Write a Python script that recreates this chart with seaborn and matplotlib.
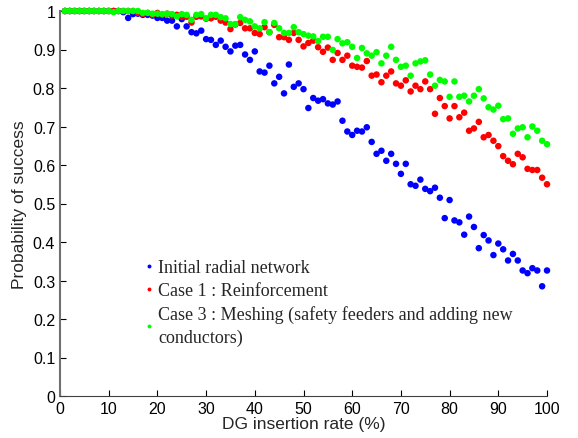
import numpy as np
import pandas as pd
import matplotlib
matplotlib.use("Agg")
import matplotlib.pyplot as plt
import seaborn as sns

rate = list(range(1, 101))

initial_radial = [
    1.0, 1.0, 1.0, 1.0, 1.0, 1.0, 1.0, 1.0, 1.0, 1.0,
    1.0, 1.0, 0.997, 0.982, 0.992, 0.993, 0.99, 0.99, 0.988, 0.982,
    0.982, 0.975, 0.975, 0.96, 0.979, 0.96, 0.945, 0.942, 0.949, 0.927,
    0.925, 0.912, 0.923, 0.907, 0.895, 0.91, 0.912, 0.887, 0.873, 0.895,
    0.843, 0.84, 0.858, 0.812, 0.829, 0.786, 0.861, 0.803, 0.812, 0.797,
    0.748, 0.774, 0.767, 0.771, 0.76, 0.757, 0.765, 0.715, 0.687, 0.678,
    0.689, 0.687, 0.698, 0.66, 0.629, 0.637, 0.611, 0.629, 0.603, 0.577,
    0.603, 0.55, 0.546, 0.562, 0.538, 0.532, 0.541, 0.515, 0.462, 0.509,
    0.456, 0.451, 0.419, 0.466, 0.439, 0.384, 0.418, 0.404, 0.366, 0.396,
    0.381, 0.352, 0.369, 0.352, 0.326, 0.319, 0.332, 0.326, 0.285, 0.326,
]

case1_reinforcement = [
    1.0, 1.0, 1.0, 1.0, 1.0, 1.0, 1.0, 1.0, 1.0, 1.0,
    1.0, 1.0, 1.0, 1.0, 1.0, 0.995, 0.992, 0.995, 0.99, 0.995,
    0.99, 0.993, 0.988, 0.99, 0.985, 0.985, 0.97, 0.985, 0.986, 0.98,
    0.981, 0.985, 0.975, 0.97, 0.953, 0.965, 0.969, 0.955, 0.955, 0.943,
    0.94, 0.958, 0.945, 0.964, 0.932, 0.932, 0.925, 0.943, 0.925, 0.908,
    0.917, 0.923, 0.906, 0.894, 0.905, 0.873, 0.891, 0.873, 0.884, 0.858,
    0.855, 0.853, 0.87, 0.832, 0.835, 0.815, 0.832, 0.843, 0.812, 0.806,
    0.82, 0.791, 0.806, 0.797, 0.817, 0.797, 0.733, 0.774, 0.753, 0.721,
    0.753, 0.724, 0.736, 0.689, 0.695, 0.712, 0.672, 0.678, 0.663, 0.649,
    0.623, 0.611, 0.602, 0.629, 0.62, 0.59, 0.587, 0.587, 0.567, 0.55,
]

case3_meshing = [
    1.0, 1.0, 1.0, 1.0, 1.0, 1.0, 1.0, 1.0, 1.0, 1.0,
    0.997, 1.0, 1.0, 1.0, 1.0, 1.0, 0.995, 0.995, 0.993, 0.993,
    0.992, 0.993, 0.992, 0.986, 0.992, 0.99, 0.977, 0.99, 0.992, 0.981,
    0.99, 0.99, 0.984, 0.981, 0.966, 0.966, 0.984, 0.977, 0.973, 0.96,
    0.955, 0.971, 0.945, 0.969, 0.955, 0.943, 0.943, 0.958, 0.945, 0.94,
    0.936, 0.934, 0.922, 0.933, 0.933, 0.899, 0.927, 0.916, 0.919, 0.907,
    0.878, 0.904, 0.89, 0.884, 0.893, 0.864, 0.884, 0.907, 0.873, 0.855,
    0.858, 0.832, 0.864, 0.869, 0.872, 0.835, 0.806, 0.821, 0.817, 0.777,
    0.817, 0.777, 0.78, 0.765, 0.78, 0.797, 0.773, 0.75, 0.744, 0.754,
    0.719, 0.721, 0.681, 0.695, 0.698, 0.672, 0.7, 0.689, 0.663, 0.654,
]

labels = [
    "Initial radial network",
    "Case 1 : Reinforcement",
    "Case 3 : Meshing (safety feeders and adding new\nconductors)",
]
colors = ["#0000ff", "#ff0000", "#00ff00"]

x_ticks = list(range(0, 101, 10))
y_ticks = [i / 10 for i in range(0, 11)]
y_tick_labels = ["0", "0.1", "0.2", "0.3", "0.4", "0.5", "0.6", "0.7", "0.8", "0.9", "1"]

df = pd.concat([
    pd.DataFrame({"rate": rate, "p": initial_radial, "series": labels[0]}),
    pd.DataFrame({"rate": rate, "p": case1_reinforcement, "series": labels[1]}),
    pd.DataFrame({"rate": rate, "p": case3_meshing, "series": labels[2]}),
])

sns.set_style("ticks")
plt.rcParams["font.family"] = ["Liberation Sans", "DejaVu Sans"]

fig = plt.figure(figsize=(5.78, 4.39), dpi=100)
ax = fig.add_axes([60 / 578, 1 - 397 / 439, (547 - 60) / 578, (397 - 12) / 439])

sns.scatterplot(data=df, x="rate", y="p", hue="series", palette=colors,
                s=22, linewidth=0, edgecolor="none", ax=ax, clip_on=False,
                legend=True, zorder=3)

ax.set_xlim(0, 100)
ax.set_ylim(0, 1)
ax.set_xticks(x_ticks)
ax.set_yticks(y_ticks)
ax.set_yticklabels(y_tick_labels)
ax.tick_params(direction="in", length=4, width=0.8, labelsize=11.5, colors="#000000", pad=3.5)
for side in ["top", "right"]:
    ax.spines[side].set_visible(False)
ax.spines["left"].set_color("#707070")
ax.spines["left"].set_linewidth(1.5)
ax.spines["bottom"].set_color("#404040")
ax.spines["bottom"].set_linewidth(0.8)
ax.set_xlabel("DG insertion rate (%)", fontsize=12.5, labelpad=0)
ax.set_ylabel("Probability of success", fontsize=12.5, labelpad=4)

handles, lbls = ax.get_legend_handles_labels()
leg = ax.legend(handles, lbls, loc="upper left", bbox_to_anchor=(134 / 578, 1 - 253 / 439),
                bbox_transform=fig.transFigure, frameon=False,
                prop={"family": "Liberation Serif", "size": 13},
                handletextpad=0.05, handlelength=0.9, labelspacing=0.32,
                markerscale=0.6, borderaxespad=0)
for t in leg.get_texts():
    t.set_linespacing(1.45)

fig.savefig("out.png", dpi=100)
